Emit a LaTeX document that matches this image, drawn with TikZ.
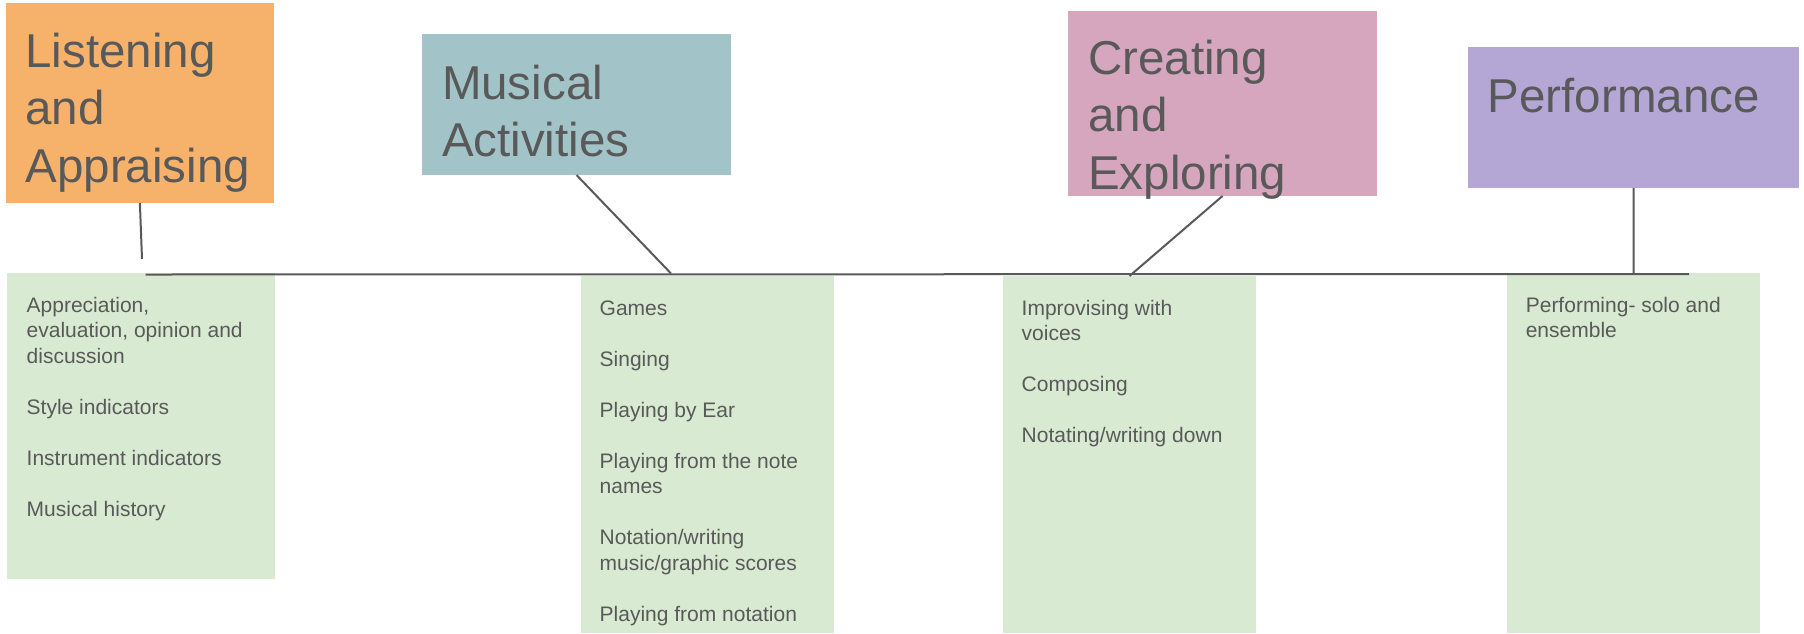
\documentclass[tikz,border=0pt]{standalone}
\usepackage{fontspec}
\setmainfont{Liberation Sans}
\definecolor{orangeA}{HTML}{F6B26B}
\definecolor{tealA}{HTML}{A2C4C9}
\definecolor{pinkA}{HTML}{D5A6BD}
\definecolor{purpleA}{HTML}{B4A7D6}
\definecolor{greenA}{HTML}{D9EAD3}
\definecolor{textgray}{HTML}{595959}
\definecolor{linegray}{HTML}{595959}
\newcommand{\bigtxt}{\fontsize{47.5}{57.5}\selectfont}
\newcommand{\smalltxt}{\fontsize{21}{25.5}\selectfont}
\newcommand{\lines}[1]{\begin{tabular}[t]{@{}l@{}}#1\end{tabular}}
\begin{document}
\begin{tikzpicture}[x=1pt,y=-1pt,
  box/.style={rectangle, inner sep=0pt, outer sep=0pt, anchor=north west},
  title/.style={anchor=base west, inner sep=0pt, text=textgray, font=\bigtxt},
  body/.style={anchor=base west, inner sep=0pt, text=textgray, font=\smalltxt},
  link/.style={draw=linegray, line width=2pt}]
\useasboundingbox (0,0) rectangle (1804,633);

% green lists
\node[box, fill=greenA, minimum width=267.5pt, minimum height=306pt] (g1) at (7,273) {};
\node[box, fill=greenA, minimum width=253pt, minimum height=357pt] (g2) at (581,276) {};
\node[box, fill=greenA, minimum width=253pt, minimum height=357pt] (g3) at (1003,276) {};
\node[box, fill=greenA, minimum width=253pt, minimum height=360pt] (g4) at (1507,273) {};

% title boxes
\node[box, fill=orangeA, minimum width=268.2pt, minimum height=200pt] (la) at (5.8,3) {};
\node[box, fill=tealA, minimum width=309pt, minimum height=141pt] (ma) at (422,34) {};
\node[box, fill=pinkA, minimum width=309pt, minimum height=185pt] (ce) at (1068,11) {};
\node[box, fill=purpleA, minimum width=331pt, minimum height=141pt] (pf) at (1468,47) {};

% titles
\node[title] (lat) at (25.3,67) {\lines{Listening\\and\\Appraising}};
\node[title] (mat) at (441.8,99) {\lines{Musical\\Activities}};
\node[title] (cet) at (1088,74) {\lines{Creating\\and\\Exploring}};
\node[title] (pft) at (1487.6,112) {\lines{Performance}};

% list texts
\node[body] (g1t) at (26.5,312) {\lines{Appreciation,\\evaluation, opinion and\\discussion\\ \\Style indicators\\ \\Instrument indicators\\ \\Musical history}};
\node[body] (g2t) at (599.5,315) {\lines{Games\\ \\Singing\\ \\Playing by Ear\\ \\Playing from the note\\names\\ \\Notation/writing\\music/graphic scores\\ \\Playing from notation}};
\node[body] (g3t) at (1021.5,315) {\lines{Improvising with\\voices\\ \\Composing\\ \\Notating/writing down}};
\node[body] (g4t) at (1525.6,312) {\lines{Performing- solo and\\ensemble}};

% connectors
\coordinate (hl1) at (145.5,274.5);
\coordinate (hl2) at (1689,274);
\coordinate (laend) at (142,259);
\coordinate (maend) at (671,273.5);
\coordinate (ceend) at (1129.5,276);
\coordinate (pfend) at (1633.7,274);
\draw[link] (hl1) -- (hl2);
\draw[link] (la.south) -- (laend);
\draw[link] (ma.south) -- (maend);
\draw[link] (ce.south) -- (ceend);
\draw[link] (pf.south) -- (pfend);
\end{tikzpicture}
\end{document}
